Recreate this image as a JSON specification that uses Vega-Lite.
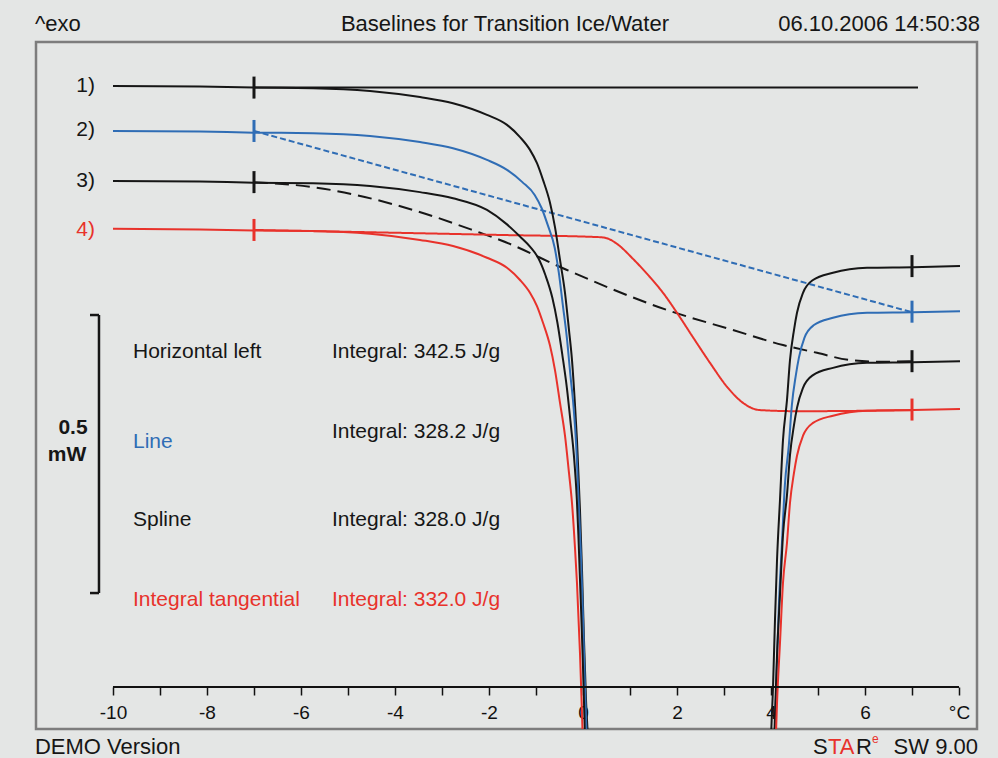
{
  "$schema": "https://vega.github.io/schema/vega-lite/v6.json",
  "width": 941,
  "height": 687,
  "autosize": {"type": "none"},
  "padding": {"left": 36, "top": 42, "right": 21, "bottom": 29},
  "background": "#e4e6e5",
  "config": {
    "view": {"stroke": "#7d7d7d", "strokeWidth": 2.5, "fill": "#e4e6e5"},
    "font": "Liberation Sans",
    "text": {"font": "Liberation Sans"}
  },
  "datasets": {
    "curves": [
      {"curve":"1","x":-10,"y":1.081},{"curve":"1","x":-8.149,"y":1.08},{"curve":"1","x":-7,"y":1.078},{"curve":"1","x":-5.745,"y":1.077},{"curve":"1","x":-4.532,"y":1.072},{"curve":"1","x":-3.468,"y":1.061},{"curve":"1","x":-2.766,"y":1.05},{"curve":"1","x":-2.043,"y":1.029},{"curve":"1","x":-1.617,"y":1.011},{"curve":"1","x":-1.34,"y":0.989},{"curve":"1","x":-1.128,"y":0.966},{"curve":"1","x":-0.979,"y":0.942},{"curve":"1","x":-0.851,"y":0.912},{"curve":"1","x":-0.702,"y":0.871},{"curve":"1","x":-0.596,"y":0.827},{"curve":"1","x":-0.489,"y":0.768},{"curve":"1","x":-0.383,"y":0.709},{"curve":"1","x":-0.298,"y":0.642},{"curve":"1","x":-0.234,"y":0.588},{"curve":"1","x":-0.17,"y":0.507},{"curve":"1","x":-0.128,"y":0.444},{"curve":"1","x":-0.064,"y":0.318},{"curve":"1","x":-0.021,"y":0.21},{"curve":"1","x":0.021,"y":0.085},{"curve":"1","x":0.064,"y":-0.023},{"curve":"1","x":0.106,"y":-0.095},{"curve":"1","x":0.149,"y":-0.203},{"curve":"1","x":0.2,"y":-0.3},
      {"curve":"1","x":3.95,"y":-0.3},{"curve":"1","x":4.0,"y":-0.095},{"curve":"1","x":4.043,"y":0.0},{"curve":"1","x":4.085,"y":0.121},{"curve":"1","x":4.128,"y":0.228},{"curve":"1","x":4.191,"y":0.336},{"curve":"1","x":4.255,"y":0.444},{"curve":"1","x":4.34,"y":0.516},{"curve":"1","x":4.404,"y":0.588},{"curve":"1","x":4.489,"y":0.642},{"curve":"1","x":4.553,"y":0.673},{"curve":"1","x":4.681,"y":0.709},{"curve":"1","x":4.894,"y":0.732},{"curve":"1","x":5.319,"y":0.745},{"curve":"1","x":6.043,"y":0.754},{"curve":"1","x":7.021,"y":0.755},{"curve":"1","x":8.021,"y":0.757},

      {"curve":"2","x":-10,"y":1.0},{"curve":"2","x":-8.149,"y":0.999},{"curve":"2","x":-7,"y":0.997},{"curve":"2","x":-5.745,"y":0.996},{"curve":"2","x":-4.532,"y":0.991},{"curve":"2","x":-3.468,"y":0.98},{"curve":"2","x":-2.766,"y":0.969},{"curve":"2","x":-2.043,"y":0.948},{"curve":"2","x":-1.617,"y":0.93},{"curve":"2","x":-1.29,"y":0.908},{"curve":"2","x":-1.028,"y":0.885},{"curve":"2","x":-0.879,"y":0.861},{"curve":"2","x":-0.751,"y":0.831},{"curve":"2","x":-0.602,"y":0.79},{"curve":"2","x":-0.516,"y":0.746},{"curve":"2","x":-0.429,"y":0.687},{"curve":"2","x":-0.343,"y":0.628},{"curve":"2","x":-0.268,"y":0.561},{"curve":"2","x":-0.204,"y":0.507},{"curve":"2","x":-0.14,"y":0.426},{"curve":"2","x":-0.108,"y":0.363},{"curve":"2","x":-0.044,"y":0.237},{"curve":"2","x":-0.001,"y":0.129},{"curve":"2","x":0.041,"y":0.004},{"curve":"2","x":0.084,"y":-0.104},{"curve":"2","x":0.126,"y":-0.176},{"curve":"2","x":0.169,"y":-0.284},{"curve":"2","x":0.22,"y":-0.381},
      {"curve":"2","x":3.99,"y":-0.381},{"curve":"2","x":4.04,"y":-0.176},{"curve":"2","x":4.083,"y":-0.081},{"curve":"2","x":4.125,"y":0.04},{"curve":"2","x":4.168,"y":0.147},{"curve":"2","x":4.231,"y":0.255},{"curve":"2","x":4.295,"y":0.363},{"curve":"2","x":4.38,"y":0.435},{"curve":"2","x":4.444,"y":0.507},{"curve":"2","x":4.529,"y":0.561},{"curve":"2","x":4.593,"y":0.592},{"curve":"2","x":4.711,"y":0.628},{"curve":"2","x":4.914,"y":0.651},{"curve":"2","x":5.319,"y":0.664},{"curve":"2","x":6.043,"y":0.673},{"curve":"2","x":7.021,"y":0.674},{"curve":"2","x":8.021,"y":0.676},

      {"curve":"3","x":-10,"y":0.91},{"curve":"3","x":-8.149,"y":0.909},{"curve":"3","x":-7,"y":0.907},{"curve":"3","x":-5.745,"y":0.906},{"curve":"3","x":-4.532,"y":0.901},{"curve":"3","x":-3.468,"y":0.89},{"curve":"3","x":-2.766,"y":0.879},{"curve":"3","x":-2.043,"y":0.858},{"curve":"3","x":-1.617,"y":0.832},{"curve":"3","x":-1.34,"y":0.81},{"curve":"3","x":-1.128,"y":0.792},{"curve":"3","x":-0.949,"y":0.771},{"curve":"3","x":-0.801,"y":0.741},{"curve":"3","x":-0.652,"y":0.7},{"curve":"3","x":-0.546,"y":0.656},{"curve":"3","x":-0.439,"y":0.597},{"curve":"3","x":-0.343,"y":0.538},{"curve":"3","x":-0.258,"y":0.471},{"curve":"3","x":-0.194,"y":0.417},{"curve":"3","x":-0.13,"y":0.336},{"curve":"3","x":-0.098,"y":0.273},{"curve":"3","x":-0.044,"y":0.147},{"curve":"3","x":-0.001,"y":0.039},{"curve":"3","x":0.041,"y":-0.086},{"curve":"3","x":0.084,"y":-0.194},{"curve":"3","x":0.126,"y":-0.266},{"curve":"3","x":0.169,"y":-0.374},{"curve":"3","x":0.22,"y":-0.471},
      {"curve":"3","x":3.95,"y":-0.471},{"curve":"3","x":4.0,"y":-0.266},{"curve":"3","x":4.043,"y":-0.171},{"curve":"3","x":4.085,"y":-0.05},{"curve":"3","x":4.128,"y":0.057},{"curve":"3","x":4.191,"y":0.165},{"curve":"3","x":4.255,"y":0.273},{"curve":"3","x":4.34,"y":0.345},{"curve":"3","x":4.404,"y":0.417},{"curve":"3","x":4.489,"y":0.471},{"curve":"3","x":4.553,"y":0.502},{"curve":"3","x":4.681,"y":0.538},{"curve":"3","x":4.894,"y":0.561},{"curve":"3","x":5.319,"y":0.574},{"curve":"3","x":6.043,"y":0.583},{"curve":"3","x":7.021,"y":0.584},{"curve":"3","x":8.021,"y":0.586},

      {"curve":"4","x":-10,"y":0.824},{"curve":"4","x":-8.149,"y":0.823},{"curve":"4","x":-7,"y":0.821},{"curve":"4","x":-5.745,"y":0.82},{"curve":"4","x":-4.532,"y":0.815},{"curve":"4","x":-3.468,"y":0.804},{"curve":"4","x":-2.766,"y":0.793},{"curve":"4","x":-2.043,"y":0.772},{"curve":"4","x":-1.617,"y":0.754},{"curve":"4","x":-1.34,"y":0.732},{"curve":"4","x":-1.128,"y":0.709},{"curve":"4","x":-0.979,"y":0.685},{"curve":"4","x":-0.851,"y":0.655},{"curve":"4","x":-0.702,"y":0.614},{"curve":"4","x":-0.596,"y":0.57},{"curve":"4","x":-0.489,"y":0.511},{"curve":"4","x":-0.383,"y":0.452},{"curve":"4","x":-0.298,"y":0.385},{"curve":"4","x":-0.234,"y":0.331},{"curve":"4","x":-0.17,"y":0.25},{"curve":"4","x":-0.128,"y":0.187},{"curve":"4","x":-0.064,"y":0.061},{"curve":"4","x":-0.021,"y":-0.047},{"curve":"4","x":0.021,"y":-0.172},{"curve":"4","x":0.064,"y":-0.28},{"curve":"4","x":0.106,"y":-0.352},{"curve":"4","x":0.149,"y":-0.46},{"curve":"4","x":0.2,"y":-0.557},
      {"curve":"4","x":3.95,"y":-0.557},{"curve":"4","x":4.0,"y":-0.352},{"curve":"4","x":4.043,"y":-0.257},{"curve":"4","x":4.085,"y":-0.136},{"curve":"4","x":4.128,"y":-0.029},{"curve":"4","x":4.191,"y":0.079},{"curve":"4","x":4.255,"y":0.187},{"curve":"4","x":4.34,"y":0.259},{"curve":"4","x":4.404,"y":0.331},{"curve":"4","x":4.489,"y":0.385},{"curve":"4","x":4.553,"y":0.416},{"curve":"4","x":4.681,"y":0.452},{"curve":"4","x":4.894,"y":0.475},{"curve":"4","x":5.319,"y":0.488},{"curve":"4","x":6.043,"y":0.497},{"curve":"4","x":7.021,"y":0.498},{"curve":"4","x":8.021,"y":0.5}
    ],
    "baselines": [
      {"curve":"1","x":-7,"y":1.078},{"curve":"1","x":7.128,"y":1.078},
      {"curve":"2","x":-7,"y":1.0},{"curve":"2","x":7,"y":0.674},
      {"curve":"3","x":-7,"y":0.908},{"curve":"3","x":-5.745,"y":0.899},{"curve":"3","x":-3.617,"y":0.858},{"curve":"3","x":-2.191,"y":0.817},{"curve":"3","x":-1.766,"y":0.804},{"curve":"3","x":-0.34,"y":0.75},{"curve":"3","x":1.787,"y":0.678},{"curve":"3","x":3.191,"y":0.642},{"curve":"3","x":4.255,"y":0.615},{"curve":"3","x":4.979,"y":0.601},{"curve":"3","x":5.681,"y":0.588},{"curve":"3","x":6.383,"y":0.585},{"curve":"3","x":7,"y":0.586},
      {"curve":"4","x":-7,"y":0.822},{"curve":"4","x":-1.766,"y":0.813},{"curve":"4","x":0.362,"y":0.809},{"curve":"4","x":0.511,"y":0.807},{"curve":"4","x":0.723,"y":0.797},{"curve":"4","x":1.064,"y":0.77},{"curve":"4","x":1.426,"y":0.737},{"curve":"4","x":1.702,"y":0.709},{"curve":"4","x":2.0,"y":0.673},{"curve":"4","x":2.34,"y":0.629},{"curve":"4","x":2.702,"y":0.583},{"curve":"4","x":3.064,"y":0.54},{"curve":"4","x":3.404,"y":0.511},{"curve":"4","x":3.766,"y":0.498},{"curve":"4","x":4.617,"y":0.496},{"curve":"4","x":7.021,"y":0.498}
    ],
    "limits": [
      {"curve":"1","x":-7,"y":1.078},{"curve":"1","x":7,"y":0.757},
      {"curve":"2","x":-7,"y":1.0},{"curve":"2","x":7,"y":0.675},
      {"curve":"3","x":-7,"y":0.908},{"curve":"3","x":7,"y":0.586},
      {"curve":"4","x":-7,"y":0.822},{"curve":"4","x":7,"y":0.499}
    ],
    "curveLabels": [
      {"curve":"1","label":"1)","x":-10.383,"y":1.081},
      {"curve":"2","label":"2)","x":-10.383,"y":1.002},
      {"curve":"3","label":"3)","x":-10.383,"y":0.91},
      {"curve":"4","label":"4)","x":-10.383,"y":0.822}
    ],
    "notes": [
      {"curve":"1","text":"Horizontal left","x":-9.574,"y":0.603},
      {"curve":"1","text":"Integral: 342.5 J/g","x":-5.34,"y":0.603},
      {"curve":"2","text":"Line","x":-9.574,"y":0.441},
      {"curve":"1","text":"Integral: 328.2 J/g","x":-5.34,"y":0.459},
      {"curve":"3","text":"Spline","x":-9.574,"y":0.3},
      {"curve":"3","text":"Integral: 328.0 J/g","x":-5.34,"y":0.3},
      {"curve":"4","text":"Integral tangential","x":-9.574,"y":0.156},
      {"curve":"4","text":"Integral: 332.0 J/g","x":-5.34,"y":0.156}
    ]
  },
  "encoding": {
    "x": {
      "field": "x",
      "type": "quantitative",
      "scale": {"domain": [-11.638, 8.383], "nice": false, "zero": false},
      "axis": {
        "orient": "bottom",
        "offset": -42,
        "values": [-10,-9,-8,-7,-6,-5,-4,-3,-2,-1,0,1,2,3,4,5,6,7,8],
        "domain": false,
        "grid": false,
        "ticks": true,
        "tickSize": 8,
        "tickWidth": 1.5,
        "tickColor": "#111111",
        "labelExpr": "datum.value == 8 ? '°C' : (datum.value % 2 == 0 ? '' + datum.value : '')",
        "labelFont": "Liberation Sans",
        "labelFontSize": 19,
        "labelColor": "#111111",
        "labelPadding": 8,
        "labelFlush": false,
        "labelOverlap": false,
        "title": null
      }
    },
    "y": {
      "field": "y",
      "type": "quantitative",
      "scale": {"domain": [-0.0755, 1.16], "nice": false, "zero": false},
      "axis": null
    }
  },
  "layer": [
    {
      "data": {"name": "baselines"},
      "mark": {"type": "line", "strokeWidth": 2, "interpolate": "monotone", "clip": true},
      "encoding": {
        "color": {"field": "curve", "type": "nominal", "scale": {"domain": ["1","2","3","4"], "range": ["#161616","#2f6db5","#161616","#e8322b"]}, "legend": null},
        "strokeDash": {"field": "curve", "type": "nominal", "scale": {"domain": ["1","2","3","4"], "range": [[1,0],[6,3],[14,7],[1,0]]}, "legend": null}
      }
    },
    {
      "data": {"name": "curves"},
      "mark": {"type": "line", "strokeWidth": 2, "interpolate": "monotone", "clip": true},
      "encoding": {
        "color": {"field": "curve", "type": "nominal", "legend": null}
      }
    },
    {
      "data": {"name": "limits"},
      "mark": {"type": "tick", "orient": "vertical", "size": 22, "thickness": 3, "opacity": 1},
      "encoding": {
        "color": {"field": "curve", "type": "nominal", "legend": null}
      }
    },
    {
      "data": {"name": "curveLabels"},
      "transform": [{"filter": "datum.curve != '4'"}],
      "mark": {"type": "text", "align": "right", "baseline": "middle", "fontSize": 21, "color": "#161616"},
      "encoding": {
        "text": {"field": "label"}
      }
    },
    {
      "data": {"name": "curveLabels"},
      "transform": [{"filter": "datum.curve == '4'"}],
      "mark": {"type": "text", "align": "right", "baseline": "middle", "fontSize": 21, "color": "#e8322b"},
      "encoding": {
        "text": {"field": "label"}
      }
    },
    {
      "data": {"name": "notes"},
      "mark": {"type": "text", "align": "left", "baseline": "middle", "fontSize": 21},
      "encoding": {
        "text": {"field": "text"},
        "color": {"field": "curve", "type": "nominal", "legend": null}
      }
    },
    {
      "data": {"values": [{"x": -10.298, "y": 0.169, "y2": 0.669}]},
      "mark": {"type": "rule", "color": "#161616", "strokeWidth": 2.5},
      "encoding": {"y2": {"field": "y2"}}
    },
    {
      "data": {"values": [{"x": -10.489, "x2": -10.298, "y": 0.669}, {"x": -10.489, "x2": -10.298, "y": 0.169}]},
      "mark": {"type": "rule", "color": "#161616", "strokeWidth": 2.5},
      "encoding": {"x2": {"field": "x2"}}
    },
    {
      "data": {"values": [{"text": "0.5", "x": -10.851, "y": 0.466}, {"text": "mW", "x": -10.979, "y": 0.417}]},
      "mark": {"type": "text", "align": "center", "baseline": "middle", "fontSize": 21, "fontWeight": "bold", "color": "#161616"},
      "encoding": {"text": {"field": "text"}}
    },
    {
      "data": {"values": [{"x": -10, "x2": 8, "y": 0}]},
      "mark": {"type": "rule", "color": "#111111", "strokeWidth": 2},
      "encoding": {"x2": {"field": "x2"}}
    },
    {
      "data": {"values": [{"text": "^exo", "x": -11.66, "y": 1.18}, {"text": "DEMO Version", "x": -11.66, "y": -0.12}, {"text": "S", "x": 4.894, "y": -0.12}, {"text": "R", "x": 5.809, "y": -0.12}]},
      "mark": {"type": "text", "align": "left", "baseline": "alphabetic", "fontSize": 22, "color": "#161616"},
      "encoding": {"text": {"field": "text"}}
    },
    {
      "data": {"values": [{"text": "TA", "x": 5.213, "y": -0.12}]},
      "mark": {"type": "text", "align": "left", "baseline": "alphabetic", "fontSize": 22, "color": "#e8322b"},
      "encoding": {"text": {"field": "text"}}
    },
    {
      "data": {"values": [{"text": "e", "x": 6.15, "y": -0.1}]},
      "mark": {"type": "text", "align": "left", "baseline": "alphabetic", "fontSize": 12, "color": "#e8322b"},
      "encoding": {"text": {"field": "text"}}
    },
    {
      "data": {"values": [{"text": "Baselines for Transition Ice/Water", "x": -1.66, "y": 1.18}]},
      "mark": {"type": "text", "align": "center", "baseline": "alphabetic", "fontSize": 22, "color": "#161616"},
      "encoding": {"text": {"field": "text"}}
    },
    {
      "data": {"values": [{"text": "06.10.2006 14:50:38", "x": 8.447, "y": 1.18}, {"text": "SW 9.00", "x": 8.404, "y": -0.12}]},
      "mark": {"type": "text", "align": "right", "baseline": "alphabetic", "fontSize": 22, "color": "#161616"},
      "encoding": {"text": {"field": "text"}}
    }
  ]
}
